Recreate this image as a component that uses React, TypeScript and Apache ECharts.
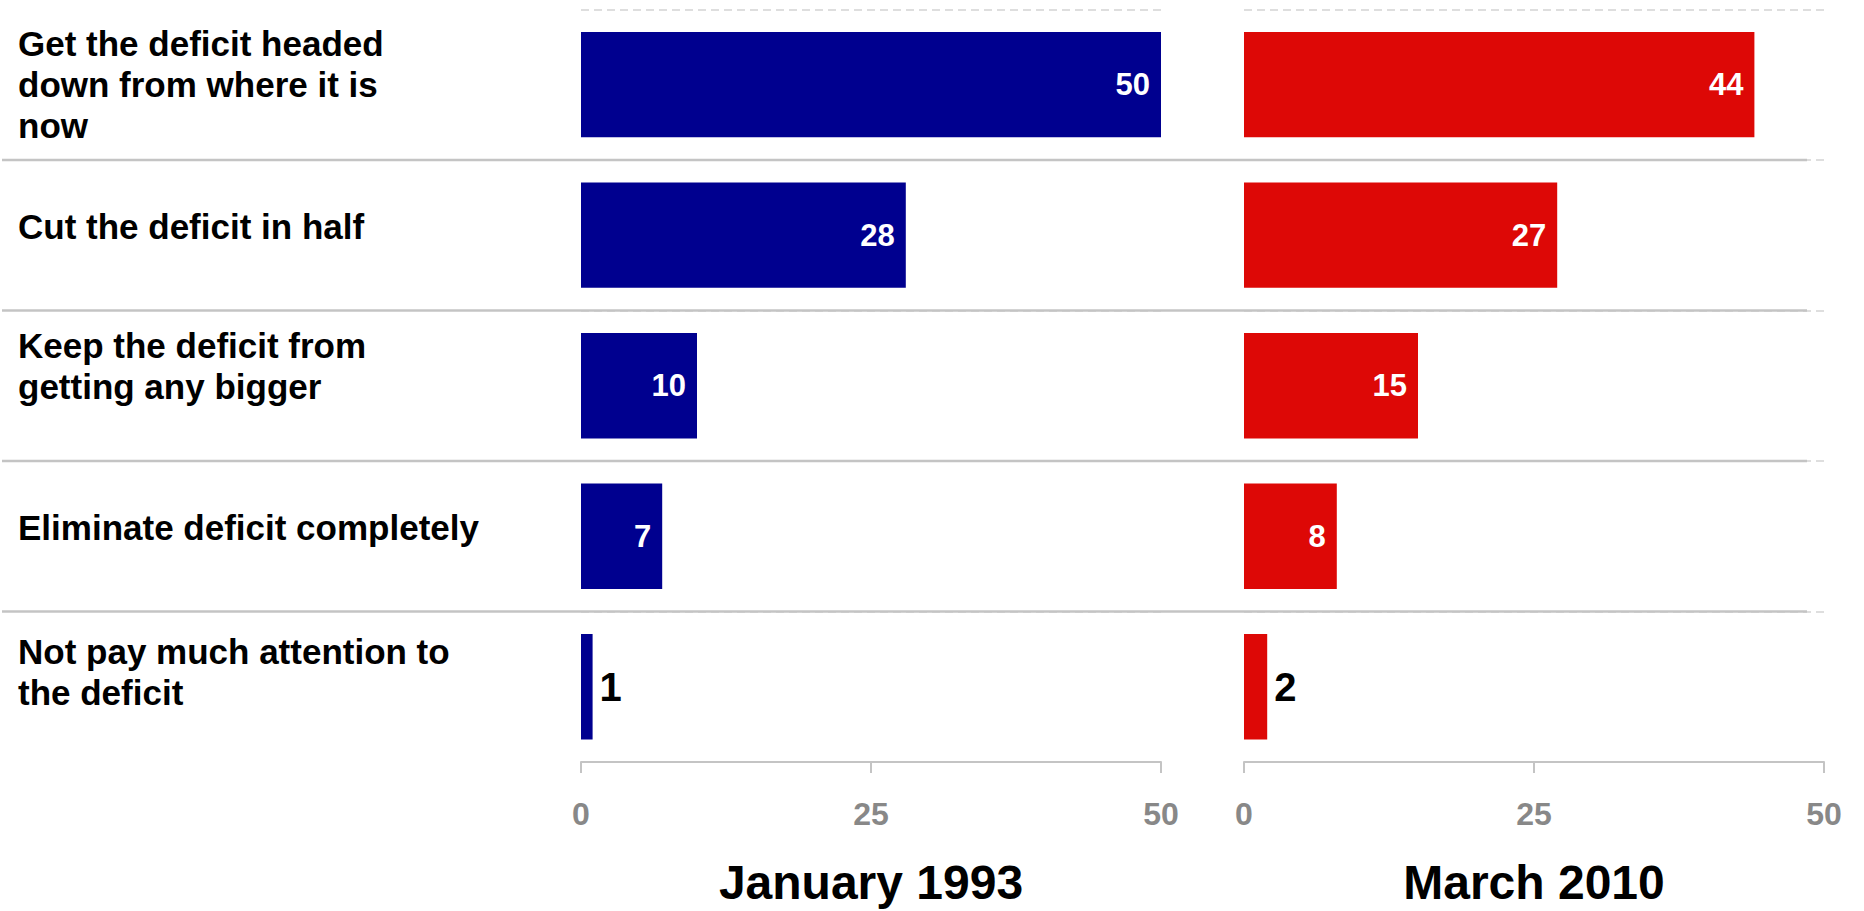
import React, { useEffect, useRef } from "react";
import * as echarts from "echarts";

const categories = [
  "Get the deficit headed\ndown from where it is\nnow",
  "Cut the deficit in half",
  "Keep the deficit from\ngetting any bigger",
  "Eliminate deficit completely",
  "Not pay much attention to\nthe deficit",
];
const jan1993 = [50, 28, 10, 7, 1];
const mar2010 = [44, 27, 15, 8, 2];
const panelTitles = ["January 1993", "March 2010"];
const xTicks = [0, 25, 50];

const FONT = "'Liberation Sans', Arial, Helvetica, sans-serif";
const BLUE = "#00008F";
const RED = "#DD0806";
const GRID_TOP = 9.4;
const GRID_H = 758.5;

export default function App() {
  const ref = useRef<HTMLDivElement>(null);

  useEffect(() => {
    if (!ref.current) return;
    const chart = echarts.init(ref.current, null, { renderer: "svg" });

    const makeData = (vals: number[]) =>
      vals.map((v) =>
        v < 5
          ? {
              value: v,
              label: {
                position: "right",
                color: "#000",
                fontSize: 40,
                distance: 7,
              },
            }
          : v
      );

    const xAxisBase = (gridIndex: number, name: string) => ({
      type: "value",
      gridIndex,
      min: xTicks[0],
      max: xTicks[xTicks.length - 1],
      interval: xTicks[1] - xTicks[0],
      name,
      nameLocation: "middle",
      nameGap: 96,
      nameTextStyle: {
        fontFamily: FONT,
        fontWeight: "bold",
        fontSize: 48,
        color: "#000",
        verticalAlign: "top",
      },
      axisLine: { show: true, lineStyle: { color: "#c4c4c4", width: 2 } },
      axisTick: { show: true, length: 11, lineStyle: { color: "#c4c4c4", width: 2 } },
      axisLabel: {
        fontFamily: FONT,
        fontWeight: "bold",
        fontSize: 32,
        color: "#888888",
        margin: 36,
      },
      splitLine: { show: false },
    });

    const yAxisBase = (gridIndex: number) => ({
      type: "category",
      gridIndex,
      data: categories,
      inverse: true,
      axisLine: { show: false },
      axisTick: { show: false },
      axisLabel: { show: false },
      splitLine: {
        show: true,
        lineStyle: { color: "#d4d4d4", width: 1.5, type: [8, 5] },
      },
    });

    const seriesBase = (idx: number, name: string, data: number[], color: string) => ({
      type: "bar",
      name,
      xAxisIndex: idx,
      yAxisIndex: idx,
      data: makeData(data),
      barWidth: "70%",
      itemStyle: { color },
      label: {
        show: true,
        position: "insideRight",
        distance: 11,
        color: "#fff",
        fontFamily: FONT,
        fontWeight: "bold",
        fontSize: 31,
      },
    });

    chart.setOption({
      animation: false,
      backgroundColor: "#fff",
      grid: [
        { left: 581, width: 580, top: GRID_TOP, height: GRID_H },
        { left: 1244, width: 580, top: GRID_TOP, height: GRID_H },
      ],
      xAxis: [xAxisBase(0, panelTitles[0]), xAxisBase(1, panelTitles[1])],
      yAxis: [yAxisBase(0), yAxisBase(1)],
      series: [
        seriesBase(0, panelTitles[0], jan1993, BLUE),
        seriesBase(1, panelTitles[1], mar2010, RED),
      ],
    });

    // category labels and row separators placed from the category axis
    const centers = categories.map(
      (c) => chart.convertToPixel({ yAxisIndex: 0 }, c) as unknown as number
    );
    const band = centers.length > 1 ? centers[1] - centers[0] : GRID_H;
    const nudge = [0, -8.5, -19.5, -8.7, -14.5];
    const graphics: any[] = [];
    categories.forEach((c, i) => {
      graphics.push({
        type: "text",
        x: 18,
        y: centers[i] + nudge[i],
        style: {
          text: c,
          fontFamily: FONT,
          fontWeight: "bold",
          fontSize: 35,
          lineHeight: 41,
          fill: "#000",
          align: "left",
          verticalAlign: "middle",
        },
        z: 10,
      });
      if (i > 0) {
        const yy = centers[i] - band / 2;
        graphics.push({
          type: "line",
          shape: { x1: 2, y1: yy, x2: 1807, y2: yy },
          style: { stroke: "#c4c4c4", lineWidth: 2.5 },
          z: 5,
        });
      }
    });
    chart.setOption({ graphic: graphics });

    return () => chart.dispose();
  }, []);

  return (
    <div
      ref={ref}
      style={{ position: "fixed", left: 0, top: 0, width: "1864px", height: "911px", background: "#fff" }}
    />
  );
}
